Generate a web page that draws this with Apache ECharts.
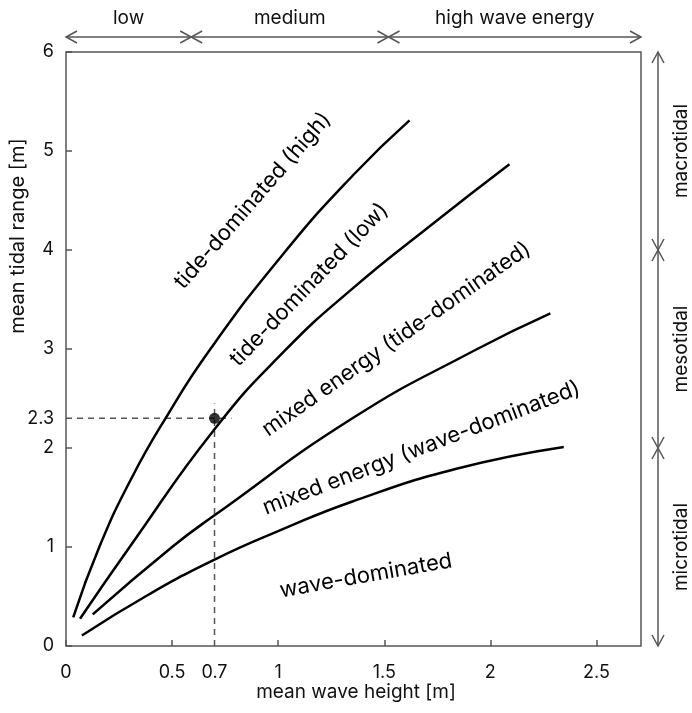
<!DOCTYPE html>
<html>
<head>
<meta charset="utf-8">
<script src="https://cdn.jsdelivr.net/npm/echarts@6/dist/echarts.min.js"></script>
<style>
  html, body { margin: 0; padding: 0; background: #fff; }
  #chart { width: 692px; height: 713px; }
</style>
</head>
<body>
<div id="chart"></div>
<script>
// boundary curves [wave height, tidal range]
const tideHigh = [[0.034, 0.29], [0.157, 1.0], [0.31, 1.70], [0.472, 2.31], [0.674, 2.98], [1.02, 3.95], [1.355, 4.76], [1.619, 5.31]]
const tideLow = [[0.066, 0.275], [0.30, 1.0], [0.70, 2.19], [1.03, 2.98], [1.35, 3.61], [1.72, 4.25], [2.09, 4.865]]
const mixedTide = [[0.126, 0.32], [0.50, 1.0], [0.70, 1.32], [1.35, 2.30], [1.92, 2.98], [2.283, 3.36]]
const mixedWave = [[0.075, 0.106], [0.39, 0.52], [0.70, 0.873], [1.0, 1.16], [1.35, 1.46], [1.84, 1.79], [2.346, 2.01]]

// example point and its guide lines
const refPoint = [0.7, 2.3]
const refHLine = [[0, 2.3], [0.78, 2.3]]
const refVLine = [[0.7, 0], [0.7, 2.45]]

// region labels [x, y, text, angle]
const regionLabels = [
  [0.88, 4.50, 'tide-dominated (high)', 49],
  [1.146, 3.65, 'tide-dominated (low)', 46],
  [1.557, 3.10, 'mixed energy (tide-dominated)', 35],
  [1.675, 2.00, 'mixed energy (wave-dominated)', 21],
  [1.413, 0.71, 'wave-dominated', 10]
]

// tick labels
const xTicks = [0, 0.5, 1, 1.5, 2, 2.5]
const xLabels = [0, 0.5, 0.7, 1, 1.5, 2, 2.5]
const yTicks = [0, 1, 2, 3, 4, 5, 6]
const yLabels = [0, 1, 2, 2.3, 3, 4, 5, 6]

// energy classes along the axes
const waveBounds = [0, 0.59, 1.52, 2.71]
const waveClasses = ['low', 'medium', 'high wave energy']
const tideBounds = [0, 2, 4, 6]
const tideClasses = ['microtidal', 'mesotidal', 'macrotidal']

const fontFamily = 'Inter, Roboto, sans-serif'
const textColor = '#111'
const frameColor = '#555'

const chart = echarts.init(document.getElementById('chart'))

const curve = (name, data) => ({
  name: name,
  type: 'line',
  data: data,
  smooth: 0.5,
  symbol: 'none',
  silent: true,
  z: 3,
  lineStyle: { color: '#000', width: 2.5 }
})

const dashed = (data) => ({
  type: 'line',
  data: data,
  symbol: 'none',
  silent: true,
  z: 2,
  lineStyle: { color: frameColor, width: 1.5, type: [6, 5] }
})

const options = {
  animation: false,
  grid: {
    left: 66,
    right: 51,
    top: 52,
    bottom: 67,
    show: true,
    borderColor: frameColor,
    borderWidth: 1.5,
    outerBoundsMode: 'none'
  },
  xAxis: {
    type: 'value',
    min: 0,
    max: 2.71,
    axisLine: { show: false },
    splitLine: { show: false },
    axisTick: {
      show: true,
      inside: true,
      length: 6,
      customValues: xTicks,
      lineStyle: { color: frameColor, width: 1.5 }
    },
    axisLabel: {
      customValues: xLabels,
      margin: 18,
      color: textColor,
      fontSize: 18,
      fontFamily: fontFamily
    }
  },
  yAxis: {
    type: 'value',
    min: 0,
    max: 6,
    axisLine: { show: false },
    splitLine: { show: false },
    axisTick: {
      show: true,
      inside: true,
      length: 6,
      customValues: yTicks,
      lineStyle: { color: frameColor, width: 1.5 }
    },
    axisLabel: {
      customValues: yLabels,
      margin: 12,
      color: textColor,
      fontSize: 18,
      fontFamily: fontFamily
    }
  },
  series: [
    dashed(refHLine),
    dashed(refVLine),
    curve('tide high', tideHigh),
    curve('tide low', tideLow),
    curve('mixed tide', mixedTide),
    curve('mixed wave', mixedWave),
    {
      type: 'scatter',
      data: [refPoint],
      symbolSize: 11,
      silent: true,
      z: 4,
      itemStyle: { color: '#000' }
    },
    {
      type: 'scatter',
      symbolSize: 0,
      silent: true,
      z: 5,
      data: regionLabels.map(d => ({
        value: [d[0], d[1]],
        label: { rotate: d[3], formatter: d[2] }
      })),
      label: {
        show: true,
        position: 'inside',
        align: 'center',
        verticalAlign: 'middle',
        color: '#000',
        opacity: 1,
        fontSize: 22,
        fontFamily: fontFamily
      }
    }
  ]
}
chart.setOption(options)

// arrows and class labels outside the plot
const px = (x, y) => chart.convertToPixel({ gridIndex: 0 }, [x, y])
const arrowStyle = { stroke: frameColor, lineWidth: 1.5, fill: null }
const headLen = 11
const headW = 6
const elements = []

const text = (t, x, y, rot, size) => ({
  type: 'text',
  x: x,
  y: y,
  rotation: rot,
  silent: true,
  style: {
    text: t,
    fill: textColor,
    fontSize: size,
    fontFamily: fontFamily,
    align: 'center',
    verticalAlign: 'middle',
    textAlign: 'center',
    textVerticalAlign: 'middle'
  }
})

const waveArrowY = 37
for (let i = 0; i < waveClasses.length; i++) {
  const a = px(waveBounds[i], 0)[0]
  const b = px(waveBounds[i + 1], 0)[0]
  elements.push({ type: 'line', silent: true, shape: { x1: a, y1: waveArrowY, x2: b, y2: waveArrowY }, style: arrowStyle })
  elements.push({ type: 'polyline', silent: true, shape: { points: [[a + headLen, waveArrowY - headW], [a, waveArrowY], [a + headLen, waveArrowY + headW]] }, style: arrowStyle })
  elements.push({ type: 'polyline', silent: true, shape: { points: [[b - headLen, waveArrowY - headW], [b, waveArrowY], [b - headLen, waveArrowY + headW]] }, style: arrowStyle })
  elements.push(text(waveClasses[i], (a + b) / 2, 18, 0, 19))
}

const tideArrowX = 658
for (let i = 0; i < tideClasses.length; i++) {
  const a = px(0, tideBounds[i])[1]
  const b = px(0, tideBounds[i + 1])[1]
  elements.push({ type: 'line', silent: true, shape: { x1: tideArrowX, y1: a, x2: tideArrowX, y2: b }, style: arrowStyle })
  elements.push({ type: 'polyline', silent: true, shape: { points: [[tideArrowX - headW, a - headLen], [tideArrowX, a], [tideArrowX + headW, a - headLen]] }, style: arrowStyle })
  elements.push({ type: 'polyline', silent: true, shape: { points: [[tideArrowX - headW, b + headLen], [tideArrowX, b], [tideArrowX + headW, b + headLen]] }, style: arrowStyle })
  elements.push(text(tideClasses[i], 681, (a + b) / 2, Math.PI / 2, 19))
}

// axis names
elements.push(text('mean wave height [m]', 356, 692, 0, 19))
elements.push(text('mean tidal range [m]', 18, 236, Math.PI / 2, 20))

chart.setOption({ graphic: { elements: elements } })
</script>
</body>
</html>
